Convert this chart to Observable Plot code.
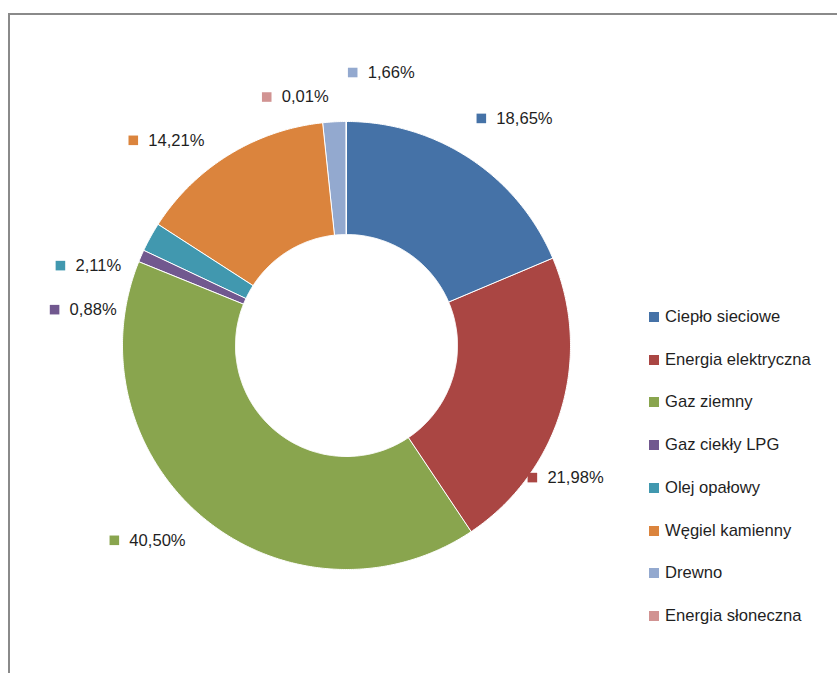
<!DOCTYPE html>
<html>
<head>
<meta charset="utf-8">
<script src="https://cdn.jsdelivr.net/npm/d3@7"></script>
<script src="https://cdn.jsdelivr.net/npm/@observablehq/plot@0.6"></script>
<style>
  body { margin: 0; background: #fff; font-family: "Liberation Sans", Arial, sans-serif; }
  #wrap { position: relative; width: 837px; height: 673px; overflow: hidden; }
  #frame { position: absolute; left: 8px; top: 13px; width: 900px; height: 800px;
           border-left: 2px solid #8a8a8a; border-top: 2px solid #8a8a8a; pointer-events: none; }
  #chart { position: absolute; left: 0; top: 0; }
  #legend { position: absolute; left: 0; top: 0; }
  .item { position: absolute; display: flex; align-items: center; white-space: nowrap;
          font-size: 16.6px; color: #1f1f1f; }
  .sw { width: 10px; height: 10px; margin-right: 6px; }
</style>
</head>
<body>
<div id="wrap">
  <div id="chart"></div>
  <div id="legend"></div>
  <div id="frame"></div>
</div>
<script>
// ---- data ----
const categories = ["Ciepło sieciowe", "Energia elektryczna", "Gaz ziemny", "Gaz ciekły LPG",
                    "Olej opałowy", "Węgiel kamienny", "Drewno", "Energia słoneczna"];
const values = [18.65, 21.98, 40.50, 0.88, 2.11, 14.21, 1.66, 0.01];
const colors = ["#4572A7", "#AA4643", "#89A54E", "#71588F", "#4198AF", "#DB843D", "#93A9CF", "#D19392"];

// ---- layout ----
const W = 837, H = 673;
const cx = 346, cy = 345, R = 224, innerFrac = 111 / 224;
// data label placement (angle in degrees clockwise from top, distance in units of outer radius)
const labelPlace = {
  "Ciepło sieciowe": [30.7, 1.179],
  "Energia elektryczna": [125.4, 1.018],
  "Gaz ziemny": [230, 1.353],
  "Gaz ciekły LPG": [277, 1.313],
  "Olej opałowy": [285.6, 1.326],
  "Węgiel kamienny": [313.9, 1.321],
  "Drewno": [1.3, 1.219],
  "Energia słoneczna": [342.2, 1.165]
};

const total = d3.sum(values);
const rad = d => d * Math.PI / 180;
const pts = [];
let cum = 0;
categories.forEach((cat, i) => {
  const a0 = cum / total * 360;
  cum += values[i];
  const a1 = cum / total * 360;
  const n = Math.max(2, Math.ceil((a1 - a0) / 0.5));
  for (let k = 0; k <= n; k++) {
    const a = rad(a0 + (a1 - a0) * k / n);
    pts.push({cat, x: Math.sin(a), y: Math.cos(a)});
  }
  for (let k = n; k >= 0; k--) {
    const a = rad(a0 + (a1 - a0) * k / n);
    pts.push({cat, x: innerFrac * Math.sin(a), y: innerFrac * Math.cos(a)});
  }
});

const fmt = v => v.toFixed(2).replace(".", ",") + "%";
const labels = categories.map((cat, i) => {
  const [ang, dist] = labelPlace[cat];
  return {cat, x: dist * Math.sin(rad(ang)), y: dist * Math.cos(rad(ang)), label: fmt(values[i])};
});

const chart = Plot.plot({
  width: W, height: H, margin: 0,
  style: {fontFamily: "Liberation Sans, Arial, sans-serif", background: "transparent"},
  x: {domain: [-cx / R, (W - cx) / R], axis: null},
  y: {domain: [-(H - cy) / R, cy / R], axis: null},
  color: {domain: categories, range: colors},
  marks: [
    Plot.line(pts, {x: "x", y: "y", z: "cat", fill: "cat", stroke: "white", strokeWidth: 1, curve: "linear-closed"}),
    Plot.dot(labels, {x: "x", y: "y", fill: "cat", symbol: "square", r: 5.4}),
    Plot.text(labels, {x: "x", y: "y", text: "label", textAnchor: "start", dx: 15, fontSize: 16.6, fill: "#1f1f1f"})
  ]
});
document.getElementById("chart").appendChild(chart);

// legend
const legend = document.getElementById("legend");
categories.forEach((cat, i) => {
  const item = document.createElement("div");
  item.className = "item";
  item.style.left = "649px";
  item.style.top = (317 + i * 42.7 - 10) + "px";
  item.style.height = "20px";
  const sw = document.createElement("div");
  sw.className = "sw";
  sw.style.background = colors[i];
  const tx = document.createElement("span");
  tx.textContent = cat;
  item.appendChild(sw);
  item.appendChild(tx);
  legend.appendChild(item);
});
</script>
</body>
</html>
